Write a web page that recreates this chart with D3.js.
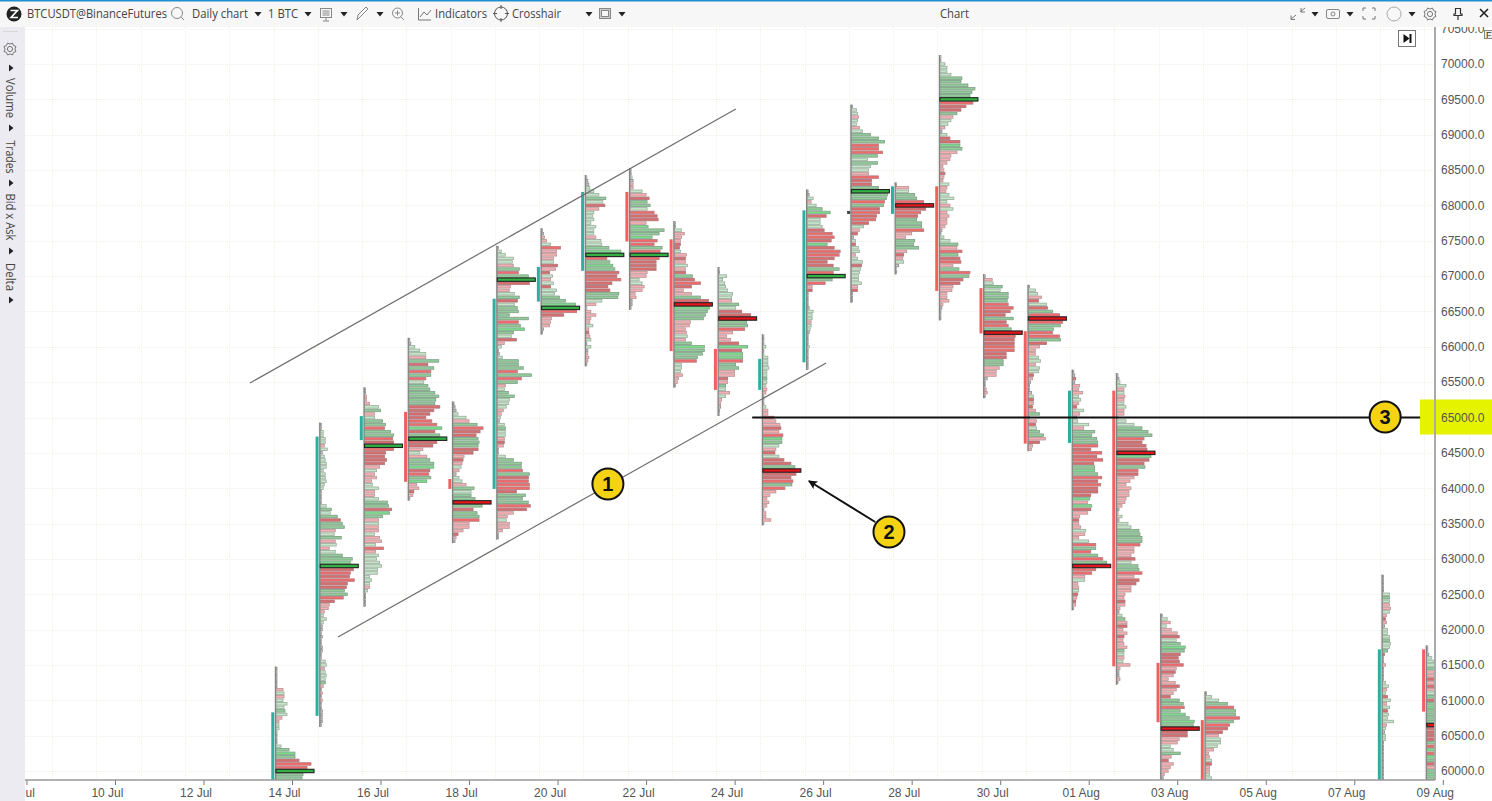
<!DOCTYPE html>
<html><head><meta charset="utf-8">
<style>html,body{margin:0;padding:0;background:#fff;overflow:hidden}svg{display:block}</style>
<script src="https://cdn.jsdelivr.net/npm/d3@7/dist/d3.min.js"></script>
</head><body><svg id="c" width="1492" height="801"></svg>
<script>
// One entry per day that has a profile
const dayDates = ["2024-07-14","2024-07-15","2024-07-16","2024-07-17","2024-07-18","2024-07-19","2024-07-20","2024-07-21","2024-07-22","2024-07-23","2024-07-24","2024-07-25","2024-07-26","2024-07-27","2024-07-28","2024-07-29","2024-07-30","2024-07-31","2024-08-01","2024-08-02","2024-08-03","2024-08-04","2024-08-08","2024-08-09"];
const topPrices = [61450,64900,65400,66100,65200,67400,67650,68400,68500,67750,67100,66150,68200,69400,68300,70100,67000,66850,65650,65600,62200,61100,62750,61750];
const pocTones  = ["g","g","g","g","r","g","g","g","g","r","r","r","g","g","r","g","r","r","r","r","r","-","-","r"];
const bodyHigh  = [60830,64730,65020,65080,64130,66680,67130,68190,68190,67520,65970,65830,67930,null,68270,68270,66830,66220,65380,65380,61530,60720,61720,61720];
const bodyLow   = [59000,60780,64680,64090,63990,63990,66640,67075,67490,65940,65390,65390,65780,null,67880,66790,66190,64630,64640,61480,60690,59000,59000,60840];
const bodyUp    = [1,1,1,0,0,1,1,1,0,0,0,1,1,null,1,0,0,0,1,0,0,0,1,0];
// Volume rows per day, top price downward in steps of 50: relative volume + tone letter
// (G/g/l = green shades, R/r/p = red shades, t = hairline, P = point of control)
const rowsJul14 = "1t 1t 1t 1t 1t 1t 7p 8l 8p 7l 11l 8l 9g 11l 6p 3p 3l 3l 1t 1t 1t 1t 5l 13g 19G 19g 23r 35R 31R 38P 27g 26g";
const rowsJul15 = "1t 1t 3l 3l 5l 5l 4p 7l 2t 4l 5l 6l 6l 3l 5l 5l 6l 4l 3l 1t 1t 1t 1t 6l 11g 10l 17g 20r 22g 24g 15p 14l 21g 15p 16l 9p 15l 22g 32g 30G 38P 33r 30R 29r 34R 27r 26r 24g 27g 23R 14r 9p 8p 4p 3l 6l 3l 2t 2t 1t 2t 1t 1t 2t 2t 1t 1t 5l 6l 4p 5l 6l 5l 5g 3p 1t 2p 1t 2p 1t 1t 2t 2t 2t 2t 1t";
const rowsJul16 = "1t 1t 2p 2p 5p 14l 16g 10p 10l 18g 21g 20R 26g 29g 28R 29r 38P 29R 21r 20r 22r 20r 15p 12l 10p 12p 7p 8l 14l 10p 10p 14l 23g 24g 27r 25G 18g 14p 14l 14p 14p 10l 15p 17p 11l 19R 11p 14l 12l 15l 17l 13l 13l 5l 7l 5l 5p 3l 1t 1t 1t 1t";
const rowsJul17 = "1t 2t 6l 11l 17l 17p 30g 19r 25g 22R 22g 17R 15l 19g 21g 26g 30g 27g 26g 31r 25r 21r 17r 23R 28R 33G 26r 31g 38P 28r 24r 14p 11l 18p 21g 25g 25G 21r 20R 22g 18G 8p 10p 5r 4p 1t";
const rowsJul18 = "1t 2t 3t 5l 13l 16p 24g 30R 27r 23r 25g 26g 25g 25r 20r 11p 10r 9p 8l 6p 3t 6l 9l 13p 21g 18l 18g 22g 38P 29g 20r 24g 26g 26R 16p 16p 10p 5r 3p 2t";
const rowsJul19 = "1t 4l 8l 16l 15l 16p 22g 21R 31g 38P 32r 13p 12p 17l 22g 20r 17l 20g 21g 12g 31g 21R 23g 27G 16g 14l 19r 7p 4l 1t 2t 5l 21g 21g 26g 20R 34g 24R 20g 8p 7l 11g 17g 12l 11l 9l 6p 4p 3l 2t 7l 8g 8l 8l 7p 7r 6p 1t 1t 8l 16g 24g 24g 25R 32g 31r 31R 32R 32R 19r 28g 25g 31g 33R 29r 16p 10p 9l 12p 12p 5p 1t 1t";
const rowsJul20 = "1t 2t 3p 5p 9l 19R 15p 15p 12p 12l 16r 14p 8r 11l 9p 12l 9r 15l 13l 18g 24g 34G 38P 35R 22r 10p 9p 8p 2t 1t";
const rowsJul21 = "1t 2t 3t 4l 8l 13l 20g 17l 19r 13p 8l 7l 8l 5l 10l 8l 8l 10p 15l 16l 23g 35G 38P 21R 24g 27G 29g 33r 31r 35R 26r 22r 24r 33g 32g 16l 10p 1t 5p 10p 5p 4p 7l 3p 3r 4p 5l 1t 5l 2t 2p 3p 2p 1t";
const rowsJul22 = "1t 1t 2l 3t 3p 3p 12l 16p 19r 17g 20g 17l 24R 27r 28r 16p 18G 34g 29g 22G 27R 24R 32g 30R 38P 29R 26r 26r 26r 17p 16p 9l 12l 14p 12p 5p 6p 2t 2t 1t";
const rowsJul23 = "1t 1t 7l 10p 7p 6p 6r 5r 6l 12p 11r 11p 13l 11p 11r 18g 20r 26R 17r 9p 17p 26g 34r 38P 35G 33g 31g 29g 16p 15p 11p 12p 13l 11p 17g 30G 30g 28g 23g 22R 7l 7l 6l 8p 4p 3p 1t";
const rowsJul24 = "1t 1t 8l 4l 6l 7l 9l 14l 13l 13p 20g 17l 23r 32r 38P 28g 29g 26R 14p 8p 12p 20r 29G 23r 24G 24G 24R 17g 20g 16p 16p 9r 9p 7g 7l 11p 7l 3p 2p 2t 1t 1t";
const rowsJul25 = "1t 1t 1t 3l 1t 1t 5l 5l 5l 6l 4l 4l 4g 4l 3l 4p 3p 1t 1t 1t 3l 5p 5p 11R 13p 17p 18r 16p 20R 19G 19g 16l 13p 12r 16l 21r 28r 32g 38P 33r 28r 30R 29g 22R 13p 7p 4p 6p 4p 1t 3p 3p 8p 1t";
const rowsJul26 = "1t 2t 6l 4p 9l 15g 23G 19r 13l 13l 15l 17r 25R 27R 24r 20G 27r 33R 32R 27r 20r 26r 32g 26R 38P 25g 18R 5p 5r 1t 1t 1t 1t 2t 6l 5l 5l 4p 4l 3l 2t 1t 1t 1t 2l 1t 1t 1t 1t 1t 1t";
const rowsJul27 = "1t 5l 6l 7p 6l 5l 8p 11l 19g 27g 33g 27R 27R 31R 26g 16l 26g 19l 17l 17p 27R 20r 20r 27g 38P 36g 35g 33R 32g 28r 28R 25r 24R 17r 12l 8p 6r 2t 4l 4r 7l 8l 4p 6l 11l 10r 9l 8l 7l 7l 10l 6p 6r 1t 1t 1t";
const rowsJul28 = "1t 13p 13l 19g 21g 28R 38P 30r 25R 22r 21g 26g 26g 28R 16p 10p 19g 18g 23g 11p 8r 7p 8l 3t 1t 1t";
const rowsJul29 = "1t 1t 5l 7l 7l 11l 22g 21g 28g 35g 32g 30g 38P 33R 26r 21r 17g 13p 11l 8l 5p 2t 7l 10r 20r 20G 22g 17p 11p 10p 7p 3p 4p 5r 4p 3p 9l 7p 6p 9l 14l 7l 10p 13l 7p 9p 7p 7p 5p 2t 1t 4l 10l 18g 17p 22R 18g 20r 21R 13p 19g 30R 29g 23r 20r 13p 12p 7p 7p 9p 3p 2t 1t 1t 1t";
const rowsJul30 = "1t 8p 9l 18g 16l 24g 24g 23g 24R 29R 26r 21r 29g 22r 24R 27g 38P 31R 30r 30r 30R 30R 22r 22r 19g 19g 15p 12p 12p 3t 1t 1t 2p 3p 1t";
const rowsJul31 = "1t 7l 9l 13p 10r 18l 19r 24g 31R 38P 34R 32g 25g 24R 31R 32g 18r 11p 7p 7p 10l 12l 7p 11l 10l 5r 4p 2t 1t 1t 3t 5l 5r 5p 4r 7p 11g 1t 8p 7r 8l 11g 15g 17p 11r 4p 3p";
const rowsAug01 = "1t 2t 3r 2t 7p 6p 10p 6l 8l 6p 4r 11l 7p 4t 5l 16l 11p 22g 19g 24g 25g 25R 18r 29R 24r 30R 21r 22g 22G 25g 29R 25r 28R 25r 25r 18r 17G 15p 19G 18r 15p 7p 6r 6p 8p 13l 12p 6p 16l 23R 23g 18R 25g 30R 34g 38P 23R 19R 12p 12l 5p 6p 6l 5r 4p 3r 3p 1t";
const rowsAug02 = "1t 2t 3l 9l 7p 7l 8p 7p 7l 9l 7p 7p 1t 9l 17l 25g 31g 35g 27R 25r 29r 30r 38P 34G 32r 27r 28g 21R 21r 17p 13p 9p 14p 12p 12p 9p 8p 5p 2t 1t 5l 2t 11l 14l 22g 23g 25g 25g 23R 17p 17p 14p 18r 14l 21g 22g 25R 17p 22r 19r 14p 14p 8p 7p 8r 8p 3p 2t 5l 8g 10p 10r 6p 10p 7r 6p 7p 10p 7g 7l 7p 6l 13p 3p 2t 2t 3p 1t";
const rowsAug03 = "1t 6l 9p 5l 10p 16p 18r 15l 19g 24G 23g 19r 17r 18r 22R 15p 14r 12p 7p 14p 18r 15p 12p 9r 18g 22g 23R 19g 24G 28g 33G 32g 38P 26r 26r 18p 16p 9l 12l 19g 10p 7r 12p 9p 7p 3p 2t";
const rowsAug04 = "1t 6l 13l 22g 28R 30g 30g 34R 28g 24R 22r 17r 13p 15l 15l 12l 8p 3p 4p 6l 6r 4p 4p 4l 6l";
const rowsAug08 = "1t 1t 1t 1t 1t 7l 7g 7l 7p 8p 7l 4p 3r 4p 2t 5l 5l 7l 7g 8l 7l 5g 2r 1t 1t 3p 1t 1t 1t 1t 3l 6l 4p 3l 5r 8l 4p 7l 5r 6l 5l 11l 4p 3l 2t 3l 3l 1t 1t 1t 1t 1t 1t 1t 1t 1t 1t 1t";
const rowsAug09 = "1t 1t 2t 5l 7l 8l 10g 12p 14p 13r 15p 14r 13p 12l 13g 16r 17g 18G 20g 21g 22g 24g 38P 25r 26r 24r 23r 21g 20R 21G 20R 19G 18g 17r 16p 15g 14G 13g";
const allRows = [rowsJul14,rowsJul15,rowsJul16,rowsJul17,rowsJul18,rowsJul19,rowsJul20,rowsJul21,rowsJul22,rowsJul23,rowsJul24,rowsJul25,rowsJul26,rowsJul27,rowsJul28,rowsJul29,rowsJul30,rowsJul31,rowsAug01,rowsAug02,rowsAug03,rowsAug04,rowsAug08,rowsAug09];

const priceTicks = d3.range(60000,70501,500);
const gridDays = d3.range(-6,28);
const channelLines = [[-0.576,65488,10.4,69364],[1.412,61895,12.44,65771]];
const levelLine = [10.77,25.86,65000];
const arrowLine = [13.55,63522,12.05,64102];
const badges = [[7.51,64059,"1"],[13.86,63380,"2"],[25.07,65007,"3"]];
const sideLabels = ["Volume","Trades","Bid x Ask","Delta"];

const W=1492,H=801,left=25,top0=27,right=1435,bottom=780;
const svg=d3.select("#c");
const FONT="'Liberation Sans',Arial,sans-serif";
const base=Date.UTC(2024,6,14);
const x=d3.scaleUtc().domain([new Date(base),new Date(Date.UTC(2024,7,9))]).range([275.5,1426.3]);
const xDay=d=>x(new Date(base+d*864e5));
const y=d3.scaleLinear().domain([60000,70000]).range([771,64]);
const w=d3.scaleLinear().domain([0,38]).range([0,38]);

svg.append("rect").attr("width",W).attr("height",H).attr("fill","#fff");
const defs=svg.append("defs");
defs.append("clipPath").attr("id","plot").append("rect").attr("x",left).attr("y",top0).attr("width",right-left-1).attr("height",bottom-top0);
defs.append("filter").attr("id","soft").attr("x","0").attr("y","0").attr("width","100%").attr("height","100%").append("feGaussianBlur").attr("stdDeviation",0.35);
defs.append("marker").attr("id","head").attr("viewBox","0 0 10 10").attr("refX",9).attr("refY",5).attr("markerWidth",11).attr("markerHeight",9).attr("markerUnits","userSpaceOnUse").attr("orient","auto")
  .append("path").attr("d","M0,0L10,5L0,10L2,5Z").attr("fill","#111");

// grid
const grid=svg.append("g").attr("stroke","#f1f1ea").attr("stroke-width",1).attr("stroke-dasharray","1,1");
grid.selectAll(".h").data(priceTicks).join("line").attr("x1",left).attr("x2",right).attr("y1",d=>Math.round(y(d))+.5).attr("y2",d=>Math.round(y(d))+.5);
grid.selectAll(".v").data(gridDays).join("line").attr("y1",top0).attr("y2",bottom).attr("x1",d=>Math.round(xDay(d)-2)+.5).attr("x2",d=>Math.round(xDay(d)-2)+.5);

// highlight behind axis label
svg.append("rect").attr("x",1420).attr("width",72).attr("y",y(65000)-18).attr("height",35).attr("fill","#e5f200");

const fills={G:"#7ddc8e",g:"#93cc9a",l:"#c6e6c9",R:"#f26a6c",r:"#d96d70",p:"#f5b0b3",t:"#c8c8c8"};
const strokes={G:"#7aa683",g:"#7c9d84",l:"#98ab9b",R:"#b47a7c",r:"#ab7476",p:"#b89496",t:"#8a8a8a"};
const plot=svg.append("g").attr("clip-path","url(#plot)").append("g").attr("filter","url(#soft)");

dayDates.forEach((ds,i)=>{
  const d0=new Date(ds+"T00:00:00Z"), sx=x(d0);
  const rows=allRows[i].split(" ").map((t,j)=>({v:+t.slice(0,-1),k:t.slice(-1),price:topPrices[i]-j*50}));
  const g=plot.append("g");
  // candle body
  if(bodyHigh[i]!==null){
    g.append("rect").attr("x",sx-4.2).attr("width",3).attr("y",y(bodyHigh[i])).attr("height",y(bodyLow[i])-y(bodyHigh[i]))
      .attr("fill",bodyUp[i]?"#2fae9f":"#f0605f");
  }
  const normal=rows.filter(r=>r.k!=="P");
  g.selectAll("rect.row").data(normal).join("rect").attr("class","row")
    .attr("x",sx+.5).attr("y",r=>y(r.price)-1.25).attr("height",2.5).attr("width",r=>w(r.v))
    .attr("fill",r=>fills[r.k]).attr("stroke",r=>strokes[r.k]).attr("stroke-width",.8);
  // wick
  const last=rows[rows.length-1].price;
  g.append("line").attr("x1",sx).attr("x2",sx).attr("y1",y(topPrices[i])-2).attr("y2",y(last)+2).attr("stroke","#858585").attr("stroke-width",1.3);
  rows.filter(r=>r.k==="P").forEach(r=>{
    g.append("rect").attr("x",sx+.5).attr("y",y(r.price)-1.7).attr("height",3.4).attr("width",w(r.v))
      .attr("fill",pocTones[i]==="g"?"#31b043":"#e3141c").attr("stroke","#222").attr("stroke-width",1.1);
  });
});
// marker dot on 27 Jul
plot.append("rect").attr("x",xDay(13)-3.8).attr("y",y(67900)-1.5).attr("width",3).attr("height",3).attr("fill","#444");

// annotations
const ann=svg.append("g");
ann.selectAll(".ch").data(channelLines).join("line").attr("x1",d=>xDay(d[0])).attr("y1",d=>y(d[1])).attr("x2",d=>xDay(d[2])).attr("y2",d=>y(d[3])).attr("stroke","#6e6e6e").attr("stroke-width",1.2);
ann.append("line").attr("x1",xDay(levelLine[0])).attr("x2",xDay(levelLine[1])).attr("y1",y(levelLine[2])).attr("y2",y(levelLine[2])).attr("stroke","#111").attr("stroke-width",2);
ann.append("line").attr("x1",xDay(arrowLine[0])).attr("y1",y(arrowLine[1])).attr("x2",xDay(arrowLine[2])).attr("y2",y(arrowLine[3])).attr("stroke","#111").attr("stroke-width",2).attr("marker-end","url(#head)");

// axes
const ax=svg.append("g").attr("transform",`translate(${right},0)`).call(d3.axisRight(y).tickValues(priceTicks).tickSize(0).tickPadding(6).tickFormat(d3.format(".1f")));
ax.select(".domain").remove();
ax.selectAll("text").attr("font-family",FONT).attr("font-size",12).attr("fill","#555");
svg.append("line").attr("x1",right).attr("x2",right).attr("y1",top0).attr("y2",bottom).attr("stroke","#aaa").attr("stroke-width",2);
const xTicks=d3.utcDay.range(new Date(Date.UTC(2024,6,8)),new Date(Date.UTC(2024,7,10)),2);
const bx=svg.append("g").attr("transform",`translate(16.5,${bottom})`).call(d3.axisBottom(x).tickValues(xTicks).tickSize(5).tickPadding(3).tickFormat(d3.utcFormat("%d %b")));
bx.select(".domain").remove();
bx.selectAll("line").attr("stroke","#777");
bx.selectAll("text").attr("font-family",FONT).attr("font-size",12).attr("fill","#555").attr("dx",-8);
svg.append("line").attr("x1",left).attr("x2",right).attr("y1",bottom).attr("y2",bottom).attr("stroke","#999").attr("stroke-width",1.5);

// badges
const bg=ann.selectAll(".b").data(badges).join("g").attr("transform",d=>`translate(${xDay(d[0])},${y(d[1])})`);
bg.append("circle").attr("r",15.5).attr("fill","#f5d313").attr("stroke","#111").attr("stroke-width",2);
bg.append("text").attr("text-anchor","middle").attr("dy",7).attr("font-family",FONT).attr("font-weight","bold").attr("font-size",20).attr("fill","#111").text(d=>d[2]);

// play-end button
const pb=svg.append("g").attr("transform","translate(1398.5,30.5)");
pb.append("rect").attr("width",17).attr("height",16).attr("fill","#fff").attr("stroke","#777");
pb.append("path").attr("d","M5,3.5L11,8L5,12.5Z").attr("fill","#111");
pb.append("rect").attr("x",11).attr("y",3.5).attr("width",2).attr("height",9).attr("fill","#111");

// sidebar
svg.append("rect").attr("x",0).attr("y",top0).attr("width",left).attr("height",H-top0).attr("fill","#ebebf1");
svg.append("text").attr("x",3).attr("y",34).attr("font-family",FONT).attr("font-size",8).attr("letter-spacing",0.2).attr("fill","#aaa").text("∙∙∙∙∙∙");
const tri=(g,px,py,dir)=>{ g.append("path").attr("d",dir==="r"?`M${px-2},${py-3.5}L${px+2.5},${py}L${px-2},${py+3.5}Z`:`M${px-3.5},${py-2}L${px+3.5},${py-2}L${px},${py+2.5}Z`).attr("fill","#222"); };
const gear=(g,px,py,r,c)=>{ const n=8,pts=[];for(let i=0;i<n*2;i++){const a=i*Math.PI/n,rr=i%2?r:r-1.6;pts.push([px+rr*Math.cos(a),py+rr*Math.sin(a)]);}
 g.append("path").attr("d",d3.line().curve(d3.curveLinearClosed)(pts)).attr("fill","none").attr("stroke",c);
 g.append("circle").attr("cx",px).attr("cy",py).attr("r",r*.4).attr("fill","none").attr("stroke",c); };
gear(svg,10,49,6.5,"#777");
[68,128,183,251,300].forEach(p=>tri(svg,11,p,"r"));
const sideY=[98,157,217,277];
const sideLen=[40,33,47,28];
sideLabels.forEach((t,i)=>svg.append("text").attr("transform",`translate(6,${sideY[i]}) rotate(90)`).attr("text-anchor","middle").attr("font-family","'Open Sans',sans-serif").attr("font-size",12).attr("textLength",sideLen[i]).attr("lengthAdjust","spacingAndGlyphs").attr("fill","#444").text(t));

// toolbar
svg.append("rect").attr("width",W).attr("height",top0).attr("fill","#f7f7f8");
svg.append("rect").attr("width",W).attr("height",1.5).attr("fill","#1f8fd0");
const tt=(t,a,len)=>svg.append("text").attr("x",a).attr("y",18).attr("font-family","'Open Sans',sans-serif").attr("font-size",12).attr("fill","#444").attr("textLength",len).attr("lengthAdjust","spacingAndGlyphs").text(t);
tt("BTCUSDT@BinanceFutures",27,140); tt("Daily chart",192,56); tt("1 BTC",268,30); tt("Indicators",435,52); tt("Crosshair",512,49); tt("Chart",940,29);
svg.append("circle").attr("cx",14).attr("cy",14).attr("r",7.5).attr("fill","#222");
svg.append("path").attr("d","M10.5,10.5H17.5L11,17.5H18").attr("fill","none").attr("stroke","#fff").attr("stroke-width",1.6);
const ic=svg.append("g").attr("fill","none").attr("stroke","#888").attr("stroke-width",1);
ic.append("circle").attr("cx",177).attr("cy",13).attr("r",5.5);ic.append("path").attr("d","M181,17L184,20");
[258,308,344,380,589,622,1315,1350,1412].forEach(p=>tri(svg,p,14,"d"));
ic.append("rect").attr("x",320.5).attr("y",8.5).attr("width",11).attr("height",9);ic.append("path").attr("d","M322.5,11H329.5M322.5,13H329.5M322.5,15H329.5M326,18V21M323,21H329");
ic.append("path").attr("d","M357,20L358,15L366,7L368,9L360,17Z");
ic.append("circle").attr("cx",397.5).attr("cy",13).attr("r",5);ic.append("path").attr("d","M401,17L404,20M395,13H400M397.5,10.5V15.5");
ic.append("path").attr("d","M418.5,8V20H431M420,17L424,12L427,15L431,10").attr("stroke","#777");
ic.append("circle").attr("cx",501).attr("cy",13.5).attr("r",6.5).attr("stroke","#555");ic.append("path").attr("d","M501,5V9M501,18V22M493,13.5H497M505,13.5H509").attr("stroke","#555");
ic.append("rect").attr("x",599.5).attr("y",8.5).attr("width",11).attr("height",10).attr("fill","#ccc");ic.append("rect").attr("x",601.5).attr("y",10.5).attr("width",7).attr("height",6).attr("fill","#f7f7f8");
ic.append("path").attr("d","M1291,19L1296,15M1291,15.5V19.5H1295M1305,8L1300,12M1301,8V12H1305").attr("stroke","#777");
ic.append("rect").attr("x",1326.5).attr("y",9.5).attr("width",13).attr("height",9).attr("rx",1.5);ic.append("circle").attr("cx",1333).attr("cy",14).attr("r",2);
ic.append("path").attr("d","M1363,11V8H1366M1372,8H1375V11M1375,16V19H1372M1366,19H1363V16").attr("stroke","#777");
ic.append("circle").attr("cx",1394).attr("cy",14).attr("r",7).attr("stroke","#aaa");
gear(svg,1430,14,6.5,"#777");
svg.append("path").attr("d","M1455.5,8.5H1460.5V14H1462V15.5H1454V14H1455.5ZM1458,15.5V20").attr("fill","none").attr("stroke","#333").attr("stroke-width",1.2);
svg.append("path").attr("d","M1480,9L1488,17M1488,9L1480,17").attr("fill","none").attr("stroke","#222").attr("stroke-width",1.6);
// F flag on price axis
svg.append("rect").attr("x",1484.5).attr("y",30.5).attr("width",8).attr("height",8).attr("fill","#eee").attr("stroke","#888");
svg.append("text").attr("x",1486).attr("y",38).attr("font-family",FONT).attr("font-size",9).attr("fill","#333").text("F");
</script></body></html>
